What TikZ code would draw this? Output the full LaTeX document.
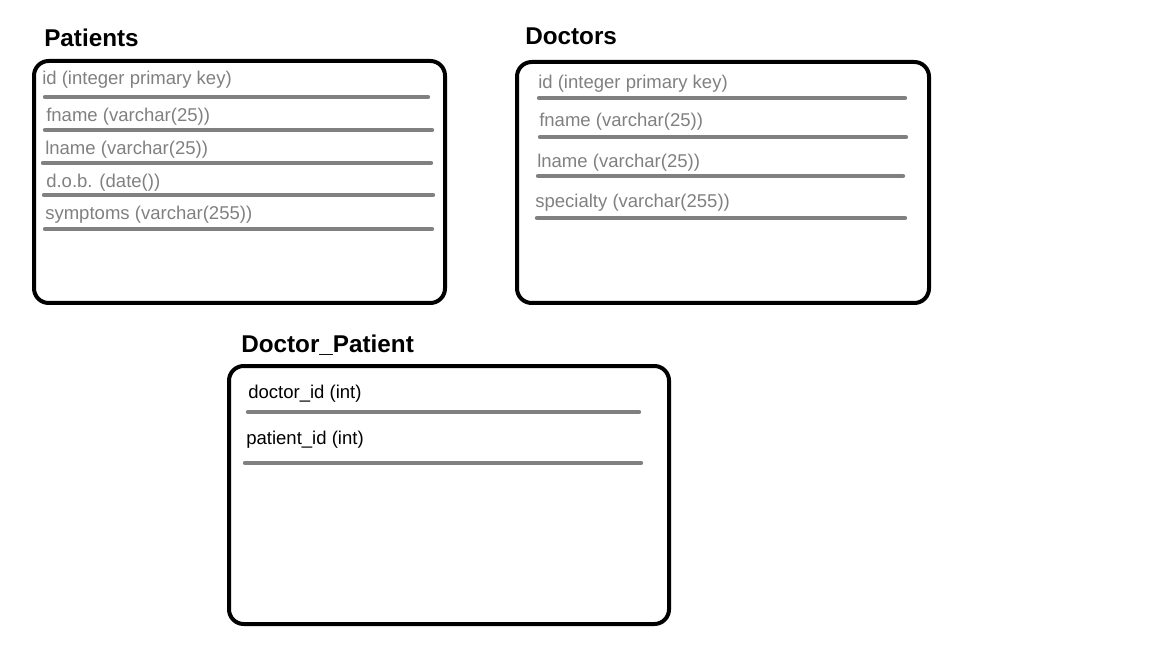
\documentclass[tikz,border=0pt]{standalone}
\usepackage{fontspec}
\setmainfont{Liberation Sans}
\begin{document}
\begin{tikzpicture}[x=0.75pt,y=-0.75pt, line join=round, line cap=round, font=\fontsize{13.9}{16}\selectfont]
\tikzset{
	table/.style={line width=3pt, rounded corners=11pt},
	sep/.style={draw=gray, line width=3.3pt},
	field/.style={anchor=base west, inner sep=0pt, text=gray},
	keyfield/.style={field, text=black},
	title/.style={anchor=base west, inner sep=0pt, font=\fontsize{18.2}{20}\selectfont\bfseries}
}
\useasboundingbox (0,0) rectangle (1152,648);
%Patients
\draw[table] (34,61) rectangle (445,303);
\node[title] (patients) at (44,47) {Patients};
\foreach \i/\x/\y/\t in {1/42/85/id (integer primary key),2/46/122/fname (varchar(25)),3/45/155/lname (varchar(25)),4/46/188/d.o.b. (date()),5/45/220/symptoms (varchar(255))}
	\node[field] (p\i) at (\x,\y) {\t};
\foreach \y/\a/\b in {97/43/430,130/43/434,163/41/433,195/42/435,229/43/434}
	\draw[sep] (\a+2,\y)--(\b-2,\y);
%Doctors
\draw[table] (517,62) rectangle (929,303);
\node[title] (doctors) at (525,45) {Doctors};
\foreach \i/\x/\y/\t in {1/538/89/id (integer primary key),2/539/127/fname (varchar(25)),3/537/168/lname (varchar(25)),4/535/208/specialty (varchar(255))}
	\node[field] (d\i) at (\x,\y) {\t};
\foreach \y/\a/\b in {98/537/907,137/538/908,176/536/905,218/535/907}
	\draw[sep] (\a+2,\y)--(\b-2,\y);
%Doctor_Patient
\draw[table] (229,366) rectangle (669,624);
\node[title] (docpat) at (241,353) {Doctor\_Patient};
\node[keyfield] (dp1) at (248,398) {doctor\_id (int)};
\node[keyfield] (dp2) at (246,444) {patient\_id (int)};
\foreach \y/\a/\b in {412/246/641,463/243/643}
	\draw[sep] (\a+2,\y)--(\b-2,\y);
\end{tikzpicture}
\end{document}
